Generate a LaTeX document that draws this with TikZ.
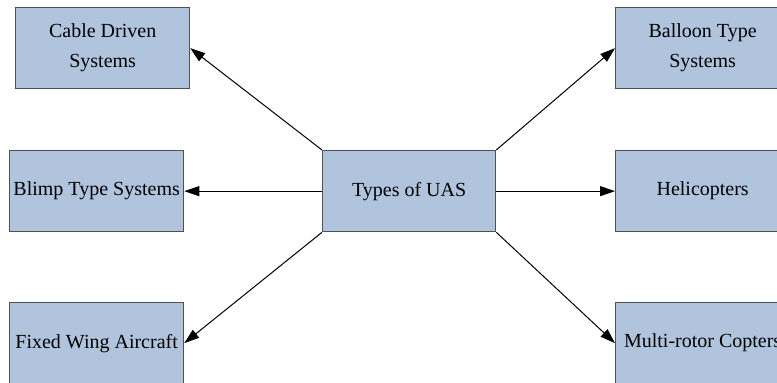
\documentclass[tikz,border=0pt]{standalone}
\usepackage{fontspec}
\setmainfont{Liberation Serif}
\usetikzlibrary{arrows.meta}
\definecolor{boxfill}{HTML}{B0C4DE}
\definecolor{boxline}{HTML}{505050}
\tikzset{
  uasbox/.style={draw=boxline, line width=1.3pt, fill=boxfill, minimum width=174pt, minimum height=81pt, inner sep=0pt, align=center, anchor=north west, font=\fontsize{20pt}{30pt}\selectfont},
  conn/.style={line width=1pt, -{Triangle[length=15pt,width=10pt]}}
}
\begin{document}
\begin{tikzpicture}[x=1pt,y=-1pt]
\useasboundingbox (0,0) rectangle (777,383);
\node[uasbox] (cable) at (15,7) {Cable Driven\\Systems};
\node[uasbox] (blimp) at (9,150) {Blimp Type Systems};
\node[uasbox] (fixed) at (9,302) {Fixed Wing Aircraft};
\node[uasbox, minimum width=173pt] (uas) at (322,150) {Types of UAS};
\node[uasbox] (balloon) at (615,7) {Balloon Type\\Systems};
\node[uasbox] (heli) at (615,150) {Helicopters};
\node[uasbox] (multi) at (615,302) {Multi-rotor Copters};
\draw[conn] (uas.north west) -- (cable.east);
\draw[conn] (uas.west) -- (blimp.east);
\draw[conn] (uas.south west) -- (fixed.east);
\draw[conn] (uas.north east) -- (balloon.west);
\draw[conn] (uas.east) -- (heli.west);
\draw[conn] (uas.south east) -- (multi.west);
\end{tikzpicture}
\end{document}
